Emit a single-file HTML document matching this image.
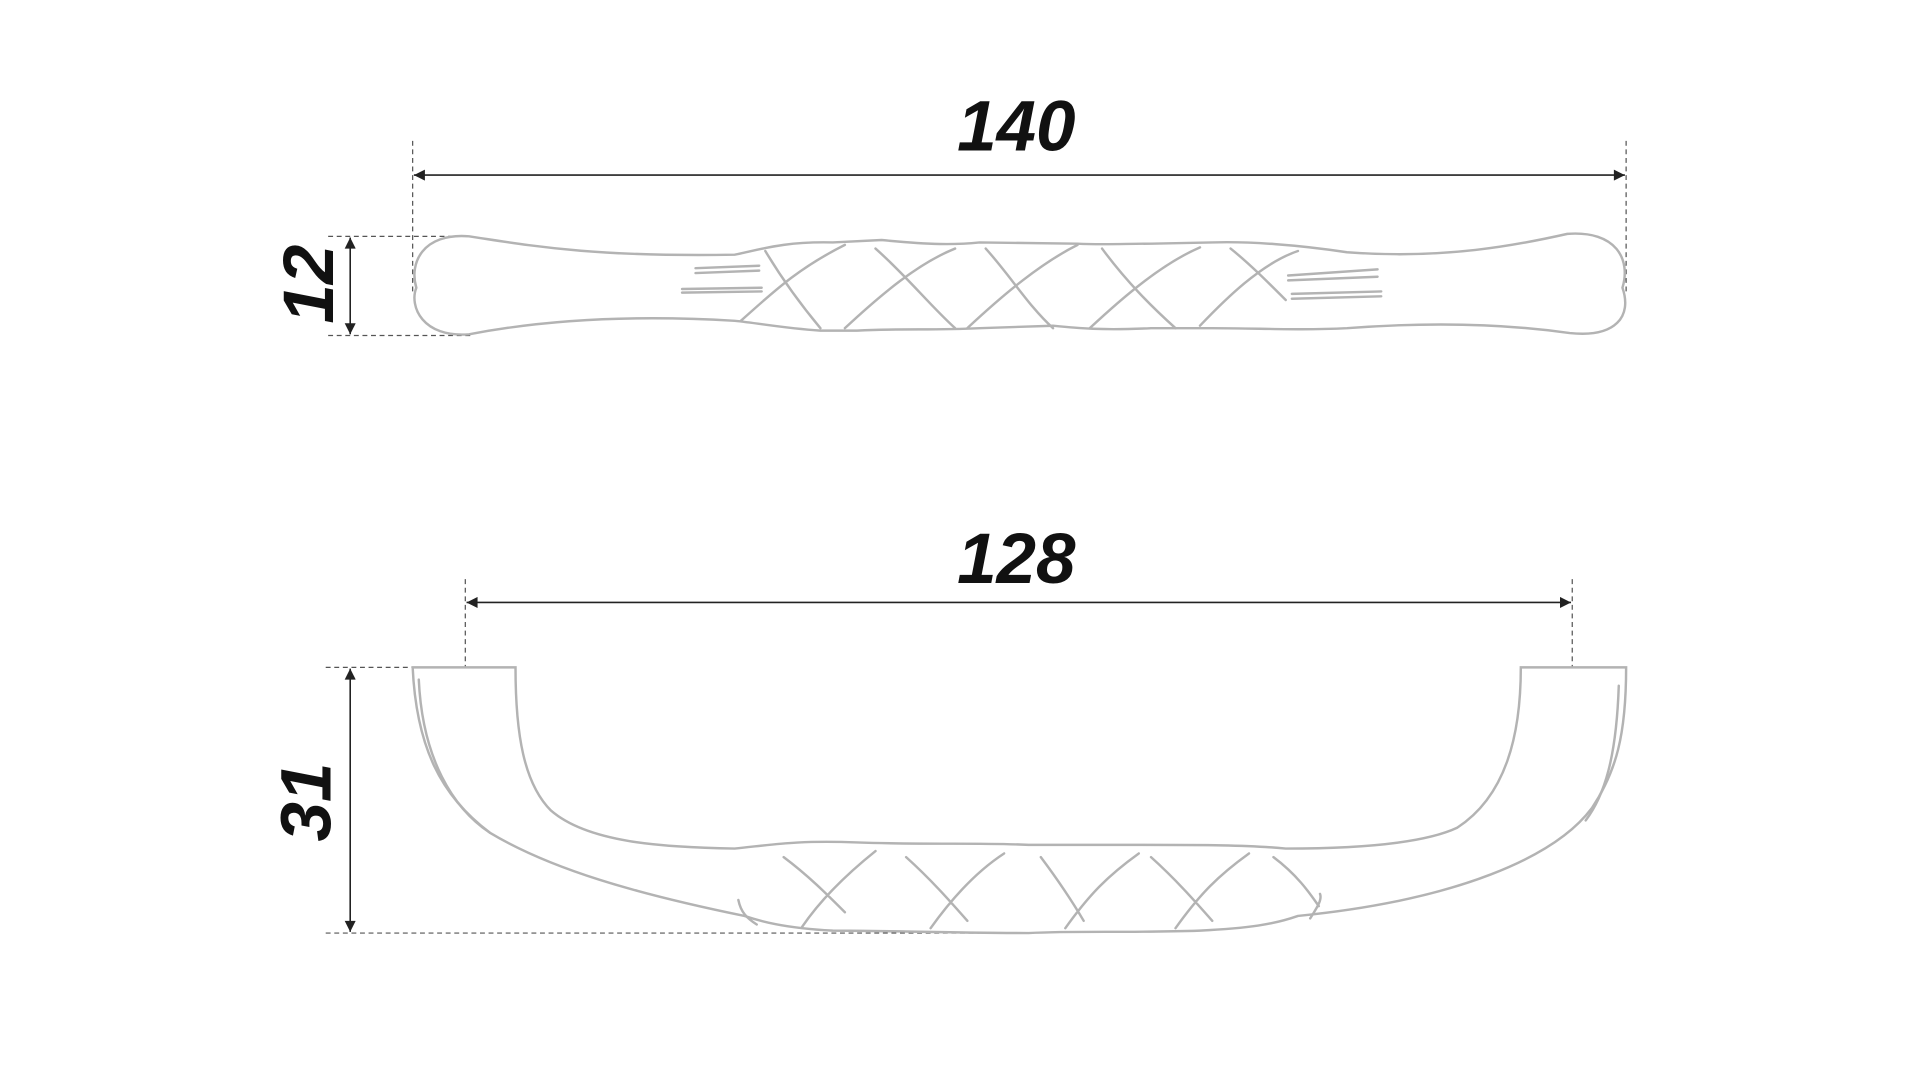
<!DOCTYPE html>
<html><head><meta charset="utf-8"><style>
html,body{margin:0;padding:0;background:#fff;width:1920px;height:1080px;overflow:hidden}
svg{display:block}
text{font-family:"Liberation Sans",sans-serif;font-weight:bold;font-style:italic;fill:#111}
</style></head><body>
<svg width="1920" height="1080" viewBox="0 0 1568 882" preserveAspectRatio="none">
<defs>
<marker id="a" viewBox="0 0 10 10" refX="10" refY="5" markerWidth="14" markerHeight="9" orient="auto-start-reverse" markerUnits="userSpaceOnUse"><path d="M0,0L10,5L0,10Z" fill="#222"/></marker>
</defs>
<rect x="0" y="0" width="1568" height="882" fill="#fff"/>
<g stroke="#555" stroke-width="1" stroke-dasharray="4,3" fill="none">
<line x1="337" y1="115" x2="337" y2="240"/>
<line x1="1328" y1="115" x2="1328" y2="240"/>
<line x1="268" y1="193" x2="385" y2="193"/>
<line x1="268" y1="274" x2="385" y2="274"/>
<line x1="380" y1="473" x2="380" y2="545"/>
<line x1="1284" y1="473" x2="1284" y2="545"/>
<line x1="266" y1="545" x2="337" y2="545"/>
<line x1="266" y1="762" x2="800" y2="762"/>
</g>
<g stroke="#222" stroke-width="1.3" fill="none">
<line x1="338" y1="143" x2="1327" y2="143" marker-start="url(#a)" marker-end="url(#a)"/>
<line x1="286" y1="194" x2="286" y2="273" marker-start="url(#a)" marker-end="url(#a)"/>
<line x1="381" y1="492" x2="1283" y2="492" marker-start="url(#a)" marker-end="url(#a)"/>
<line x1="286" y1="546" x2="286" y2="761" marker-start="url(#a)" marker-end="url(#a)"/>
</g>
<text x="830" y="123" font-size="58" text-anchor="middle">140</text>
<text x="830" y="476" font-size="58" text-anchor="middle">128</text>
<text transform="translate(272,232) rotate(-90)" font-size="58" text-anchor="middle">12</text>
<text transform="translate(270,655) rotate(-90)" font-size="58" text-anchor="middle">31</text>
<g stroke="#b3b3b3" stroke-width="2" fill="none" stroke-linecap="round">
<path d="M383,193 C430,200 480,210 600,208 C620,204 640,197 680,198 L720,196 C760,200 780,200 800,198 L880,199 C900,200 920,199 940,199 L990,198 C1020,197 1060,200 1100,206 C1180,212 1240,200 1280,191 C1320,188 1332,212 1325,235 C1333,258 1320,276 1282,272 C1240,266 1180,262 1100,268 C1060,270 1030,268 990,268 L940,268 C900,270 880,268 860,266 L800,268 C760,270 740,268 700,270 L670,270 C640,268 620,264 600,262 C500,256 430,264 383,273 C345,276 334,250 340,235 C334,215 345,190 383,193 Z"/>
<path d="M568,219 L620,217 M568,223 L620,221 M557,236 L622,235 M557,239 L622,238"/>
<path d="M1052,225 L1125,220 M1052,229 L1125,226 M1055,240 L1128,238 M1055,244 L1128,242"/>
<path d="M625,205 C640,230 655,250 670,268 M605,262 C630,240 650,220 690,200 M715,203 C740,225 760,250 780,268 M690,268 C720,240 750,215 780,203 M805,203 C825,225 840,250 860,268 M790,268 C820,240 850,215 880,200 M900,203 C920,230 940,250 960,268 M890,268 C920,240 950,215 980,202 M1005,203 C1020,215 1035,230 1050,245 M980,266 C1000,245 1030,215 1060,205"/>
<path d="M337,545 L421,545 C421,600 428,640 450,662 C480,688 540,692 600,693 C630,690 650,686 700,688 C760,690 800,688 840,690 L930,690 C980,690 1020,690 1050,693 C1100,693 1160,690 1190,676 C1230,650 1242,600 1242,545 L1328,545 C1328,600 1320,630 1300,660 C1270,700 1190,735 1060,748 C1040,755 1020,758 980,760 C920,762 880,760 840,762 C780,762 720,760 680,760 C640,758 620,752 608,748 C520,730 450,710 400,680 C360,650 340,610 337,545 Z"/>
<path d="M342,555 C345,620 370,660 400,680 M1322,560 C1320,620 1310,650 1295,670"/>
<path d="M640,700 C660,715 675,730 690,745 M655,757 C670,735 690,715 715,695 M740,700 C760,718 775,735 790,752 M760,758 C780,730 800,710 820,697 M850,700 C865,720 875,735 885,752 M870,758 C890,730 905,715 930,697 M940,700 C960,718 975,735 990,752 M960,758 C980,730 995,715 1020,697 M1040,700 C1060,715 1070,730 1077,740 M1070,750 C1075,742 1080,735 1078,730 M603,735 C605,745 610,750 618,755"/>
</g>
</svg>
</body></html>
